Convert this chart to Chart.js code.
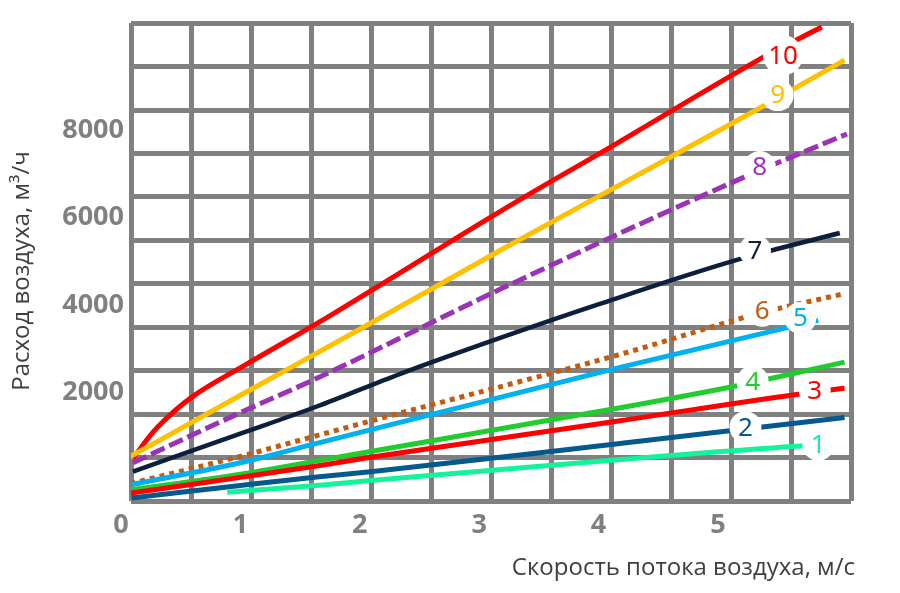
<!DOCTYPE html>
<html>
<head>
<meta charset="utf-8">
<script src="https://cdn.jsdelivr.net/npm/chart.js@4.4.1/dist/chart.umd.min.js"></script>
<style>
  html, body { margin: 0; padding: 0; background: #fff; }
  #wrap { width: 900px; height: 593px; }
</style>
</head>
<body>
<div id="wrap"><canvas id="airChart"></canvas></div>
<script>
// tick labels and axis ranges
const speedTicks = [0, 1, 2, 3, 4, 5];
const flowTicks = [2000, 4000, 6000, 8000];
const speedRange = [0.084, 6.114];
const flowRange = [-489, 10444];
const gridCols = 12;
const gridRows = 11;

const curveNames = ['1', '2', '3', '4', '5', '6', '7', '8', '9', '10'];
const curveColors = ['#14F29A', '#045A8D', '#FF0000', '#22CC2E', '#00B0F0',
                     '#C55A11', '#0D1F3C', '#9A33B5', '#FFC000', '#FF0000'];

// curves: speed (m/s) and flow (m3/h)
const speed1 = [0.89, 1.64, 2.09, 4.18, 5.69, 5.95];
const flow1  = [-289, -133, -22, 459, 770, 805];
const speed2 = [0.09, 1.0, 1.64, 2.09, 4.18, 5.08, 6.06];
const flow2  = [-422, -133, 60, 178, 829, 1111, 1422];
const speed3 = [0.075, 1.0, 1.64, 2.09, 4.18, 5.67, 6.06];
const flow3  = [-311, 52, 311, 511, 1348, 1955, 2089];
const speed4 = [0.06, 1.0, 1.64, 2.09, 4.18, 5.17, 6.06];
const flow4  = [-244, 126, 429, 644, 1644, 2155, 2689];
const speed5 = [0.075, 1.0, 1.64, 4.18, 5.84];
const flow5  = [-120, 385, 829, 2570, 3644];
const speed6 = [0.08, 1.0, 1.64, 2.11, 4.18, 5.37, 6.04];
const flow6  = [-90, 533, 1007, 1355, 2866, 3822, 4244];
const speed7 = [0.10, 1.0, 1.64, 2.34, 3.17, 4.01, 5.18, 6.02];
const flow7  = [184, 1051, 1673, 2422, 3237, 4022, 5044, 5644];
const speed8 = [0.10, 1.0, 1.64, 3.17, 5.21, 6.08];
const flow8  = [385, 1533, 2318, 4348, 6910, 7910];
const speed9 = [0.04, 1.0, 2.0, 3.17, 4.2, 5.37, 6.06];
const flow9  = [470, 1930, 3440, 5237, 6780, 8533, 9600];
const speed10 = [0.10, 0.31, 0.60, 1.02, 1.78, 3.17, 4.15, 5.38, 5.87];
const flow10  = [490, 1210, 1900, 2590, 3800, 6126, 7688, 9666, 10355];

// where the curve numbers sit
const labelSpeed = [5.84, 5.23, 5.81, 5.29, 5.69, 5.37, 5.31, 5.35, 5.50, 5.545];
const labelFlow  = [800, 1200, 2044, 2244, 3700, 3866, 5244, 7155, 8799, 9710];

const speeds = [speed1, speed2, speed3, speed4, speed5, speed6, speed7, speed8, speed9, speed10];
const flows = [flow1, flow2, flow3, flow4, flow5, flow6, flow7, flow8, flow9, flow10];

const datasets = curveNames.map((name, i) => {
    let ds = {
        label: name,
        data: speeds[i].map((s, j) => ({ x: s, y: flows[i][j] })),
        borderColor: curveColors[i],
        borderWidth: 5,
        pointRadius: 0,
        fill: false,
        cubicInterpolationMode: 'monotone'
    };
    if (name === '10') { ds.cubicInterpolationMode = 'default'; ds.tension = 0.4; }
    if (name === '8') ds.borderDash = [15, 5];
    if (name === '6') ds.borderDash = [5, 5];
    if (name === '7') ds.borderWidth = 4.5;
    return ds;
});

function evenTicks(range, n) {
    let step = (range[1] - range[0]) / n;
    let out = [];
    for (let k = 0; k <= n; k++) out.push({ value: range[0] + k * step });
    return out;
}

const curveLabels = {
    id: 'curveLabels',
    afterDatasetsDraw(chart) {
        const ctx = chart.ctx;
        const xs = chart.scales.x, ys = chart.scales.y;
        ctx.save();
        ctx.font = '26px "Noto Sans"';
        ctx.textAlign = 'center';
        ctx.textBaseline = 'middle';
        curveNames.forEach((name, i) => {
            let px = xs.getPixelForValue(labelSpeed[i]);
            let py = ys.getPixelForValue(labelFlow[i]);
            let r = name.length > 1 ? 20 : 16;
            ctx.fillStyle = '#fff';
            ctx.beginPath();
            ctx.arc(px, py, r, 0, Math.PI * 2);
            ctx.fill();
            ctx.fillStyle = curveColors[i];
            ctx.fillText(name, px, py + 1);
        });
        ctx.restore();
    }
};

const axisTitles = {
    id: 'axisTitles',
    afterDraw(chart) {
        const ctx = chart.ctx;
        ctx.save();
        ctx.fillStyle = '#3f3f3f';
        ctx.font = '24px "Open Sans"';
        ctx.textBaseline = 'middle';
        ctx.textAlign = 'center';
        ctx.translate(22, 271);
        ctx.rotate(-Math.PI / 2);
        ctx.fillText('Расход воздуха, м³/ч', 0, 0);
        ctx.restore();

        ctx.save();
        ctx.fillStyle = '#3f3f3f';
        ctx.font = '24px "Open Sans"';
        ctx.textBaseline = 'middle';
        ctx.textAlign = 'right';
        ctx.fillText('Скорость потока воздуха, м/с', 855, 568);
        ctx.restore();
    }
};

const tickFont = { family: 'Open Sans', size: 27, weight: 'bold' };

new Chart(document.getElementById('airChart'), {
    type: 'line',
    data: { datasets: datasets },
    options: {
        responsive: true,
        maintainAspectRatio: false,
        animation: false,
        layout: { padding: { top: 9, right: 49, bottom: 0, left: 0 } },
        plugins: { legend: { display: false }, tooltip: { enabled: false } },
        scales: {
            x: {
                type: 'linear',
                position: 'bottom',
                min: speedRange[0],
                max: speedRange[1],
                grid: { display: false, drawTicks: false },
                border: { display: false },
                ticks: { color: '#808080', font: tickFont, padding: 8, maxRotation: 0, autoSkip: false,
                         callback: v => String(v) },
                afterBuildTicks: s => { s.ticks = speedTicks.map(v => ({ value: v })); },
                afterFit: s => { s.height = 92; }
            },
            y: {
                type: 'linear',
                position: 'left',
                min: flowRange[0],
                max: flowRange[1],
                grid: { display: false, drawTicks: false },
                border: { display: false },
                ticks: { color: '#808080', font: tickFont, padding: 7, callback: v => String(v) },
                afterBuildTicks: s => { s.ticks = flowTicks.map(v => ({ value: v })); },
                afterFit: s => { s.width = 131; }
            },
            xg: {
                type: 'linear',
                position: 'top',
                min: speedRange[0],
                max: speedRange[1],
                grid: { color: '#808080', lineWidth: 5, drawTicks: false },
                border: { display: false },
                ticks: { display: false },
                afterBuildTicks: s => { s.ticks = evenTicks(speedRange, gridCols); },
                afterFit: s => { s.height = 0; }
            },
            yg: {
                type: 'linear',
                position: 'right',
                min: flowRange[0],
                max: flowRange[1],
                grid: { color: '#808080', lineWidth: 5, drawTicks: false },
                border: { display: false },
                ticks: { display: false },
                afterBuildTicks: s => { s.ticks = evenTicks(flowRange, gridRows); },
                afterFit: s => { s.width = 0; }
            }
        }
    },
    plugins: [curveLabels, axisTitles]
});
</script>
</body>
</html>
